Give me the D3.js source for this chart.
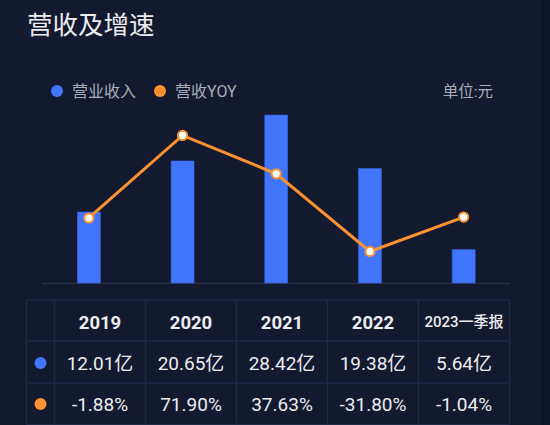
<!DOCTYPE html>
<meta charset="utf-8" />
<script src="https://d3js.org/d3.v7.min.js"></script>
<style>
  body { margin: 0; background: #131a30; }
  svg { display: block; }
</style>
<div id="chart"></div>
<script>
  // data
  const years = ["2019", "2020", "2021", "2022", "2023一季报"];
  const revenue = [12.01, 20.65, 28.42, 19.38, 5.64]; // 亿
  const yoy = [-1.88, 71.9, 37.63, -31.8, -1.04]; // %
  const revenueLabels = ["12.01亿", "20.65亿", "28.42亿", "19.38亿", "5.64亿"];
  const yoyLabels = ["-1.88%", "71.90%", "37.63%", "-31.80%", "-1.04%"];

  const W = 550, H = 425;
  const blue = "#4176fb", orange = "#fb9130";
  const font = "Roboto, 'Noto Sans CJK SC', sans-serif";

  const svg = d3.select("#chart").append("svg")
    .attr("width", W).attr("height", H);

  svg.append("rect").attr("width", W).attr("height", H).attr("fill", "#131a30");
  // darker strip on the right edge
  svg.append("rect").attr("x", 541).attr("width", W - 541).attr("height", H).attr("fill", "#0f1528");

  // title
  svg.append("text")
    .attr("x", 27).attr("y", 34)
    .style("font-family", font).style("font-size", "25.5px")
    .attr("fill", "#ececef")
    .text("营收及增速");

  // legend
  const legend = [
    { name: "营业收入", color: blue, x: 57 },
    { name: "营收YOY", color: orange, x: 160 }
  ];
  const lg = svg.append("g").selectAll("g").data(legend).join("g")
    .attr("transform", d => `translate(${d.x},91)`);
  lg.append("circle").attr("r", 6).attr("fill", d => d.color);
  lg.append("text").attr("x", 15).attr("y", 5.5)
    .style("font-family", font).style("font-size", "16px")
    .attr("fill", "#a9adb9").text(d => d.name);

  svg.append("text")
    .attr("x", 493).attr("y", 97).attr("text-anchor", "end")
    .style("font-family", font).style("font-size", "15.5px")
    .attr("fill", "#a9adb9").text("单位:元");

  // chart scales
  const x = d3.scaleBand().domain(years).range([42, 510.5]);
  const yBar = d3.scaleLinear().domain([0, 30]).range([283, 105.7]);
  const yLine = d3.scaleLinear().domain([-60, 100]).range([283, 104]);
  const barW = 23;

  // baseline
  svg.append("line")
    .attr("x1", 42).attr("x2", 510)
    .attr("y1", 283.5).attr("y2", 283.5)
    .attr("stroke", "#2c3348").attr("stroke-width", 1);

  // bars
  svg.append("g").selectAll("rect").data(years).join("rect")
    .attr("x", d => x(d) + x.bandwidth() / 2 - barW / 2)
    .attr("y", (d, i) => yBar(revenue[i]))
    .attr("width", barW)
    .attr("height", (d, i) => 283 - yBar(revenue[i]))
    .attr("fill", blue)
    .attr("stroke", "#3461d6").attr("stroke-width", 0.6);

  // yoy line
  const line = d3.line()
    .x((d, i) => x(years[i]) + x.bandwidth() / 2)
    .y(d => yLine(d));
  svg.append("path").datum(yoy)
    .attr("d", line)
    .attr("fill", "none")
    .attr("stroke", orange).attr("stroke-width", 3);

  svg.append("g").selectAll("circle").data(yoy).join("circle")
    .attr("cx", (d, i) => x(years[i]) + x.bandwidth() / 2)
    .attr("cy", d => yLine(d))
    .attr("r", 4.6)
    .attr("fill", "#ffffff")
    .attr("stroke", orange).attr("stroke-width", 2);

  // table
  const tLeft = 26.5, tRight = 509.5, firstW = 28;
  const col = d3.scaleBand().domain(years).range([tLeft + firstW, tRight]);
  const rowY = [300, 341, 383, 424.5];
  const border = "#1f2946";
  const tbl = svg.append("g");

  // horizontal lines
  tbl.selectAll("line.h").data(rowY).join("line").attr("class", "h")
    .attr("x1", tLeft).attr("x2", tRight)
    .attr("y1", d => d).attr("y2", d => d)
    .attr("stroke", border).attr("stroke-width", 1.5);
  // vertical lines
  const vx = [tLeft, tLeft + firstW].concat(years.map(d => col(d) + col.bandwidth()));
  tbl.selectAll("line.v").data(vx).join("line").attr("class", "v")
    .attr("x1", d => d).attr("x2", d => d)
    .attr("y1", rowY[0]).attr("y2", rowY[3])
    .attr("stroke", border).attr("stroke-width", 1.5);

  const cx = d => col(d) + col.bandwidth() / 2;

  // header
  tbl.selectAll("text.head").data(years).join("text").attr("class", "head")
    .attr("x", cx)
    .attr("y", (d, i) => i === 4 ? 327 : 328.5)
    .attr("text-anchor", "middle")
    .style("font-family", font)
    .style("font-size", (d, i) => i === 4 ? "15px" : "18.5px")
    .style("font-weight", (d, i) => i === 4 ? "500" : "bold")
    .attr("fill", "#ececef")
    .text(d => d);

  // rows
  const rows = [
    { color: blue, labels: revenueLabels, y: 370 },
    { color: orange, labels: yoyLabels, y: 411 }
  ];
  rows.forEach(r => {
    tbl.append("circle")
      .attr("cx", tLeft + firstW / 2).attr("cy", r.y - 7)
      .attr("r", 6).attr("fill", r.color);
    tbl.selectAll(null).data(years).join("text")
      .attr("x", cx).attr("y", r.y)
      .attr("text-anchor", "middle")
      .style("font-family", font).style("font-size", "19px")
      .attr("fill", "#ececef")
      .text((d, i) => r.labels[i]);
  });
</script>
